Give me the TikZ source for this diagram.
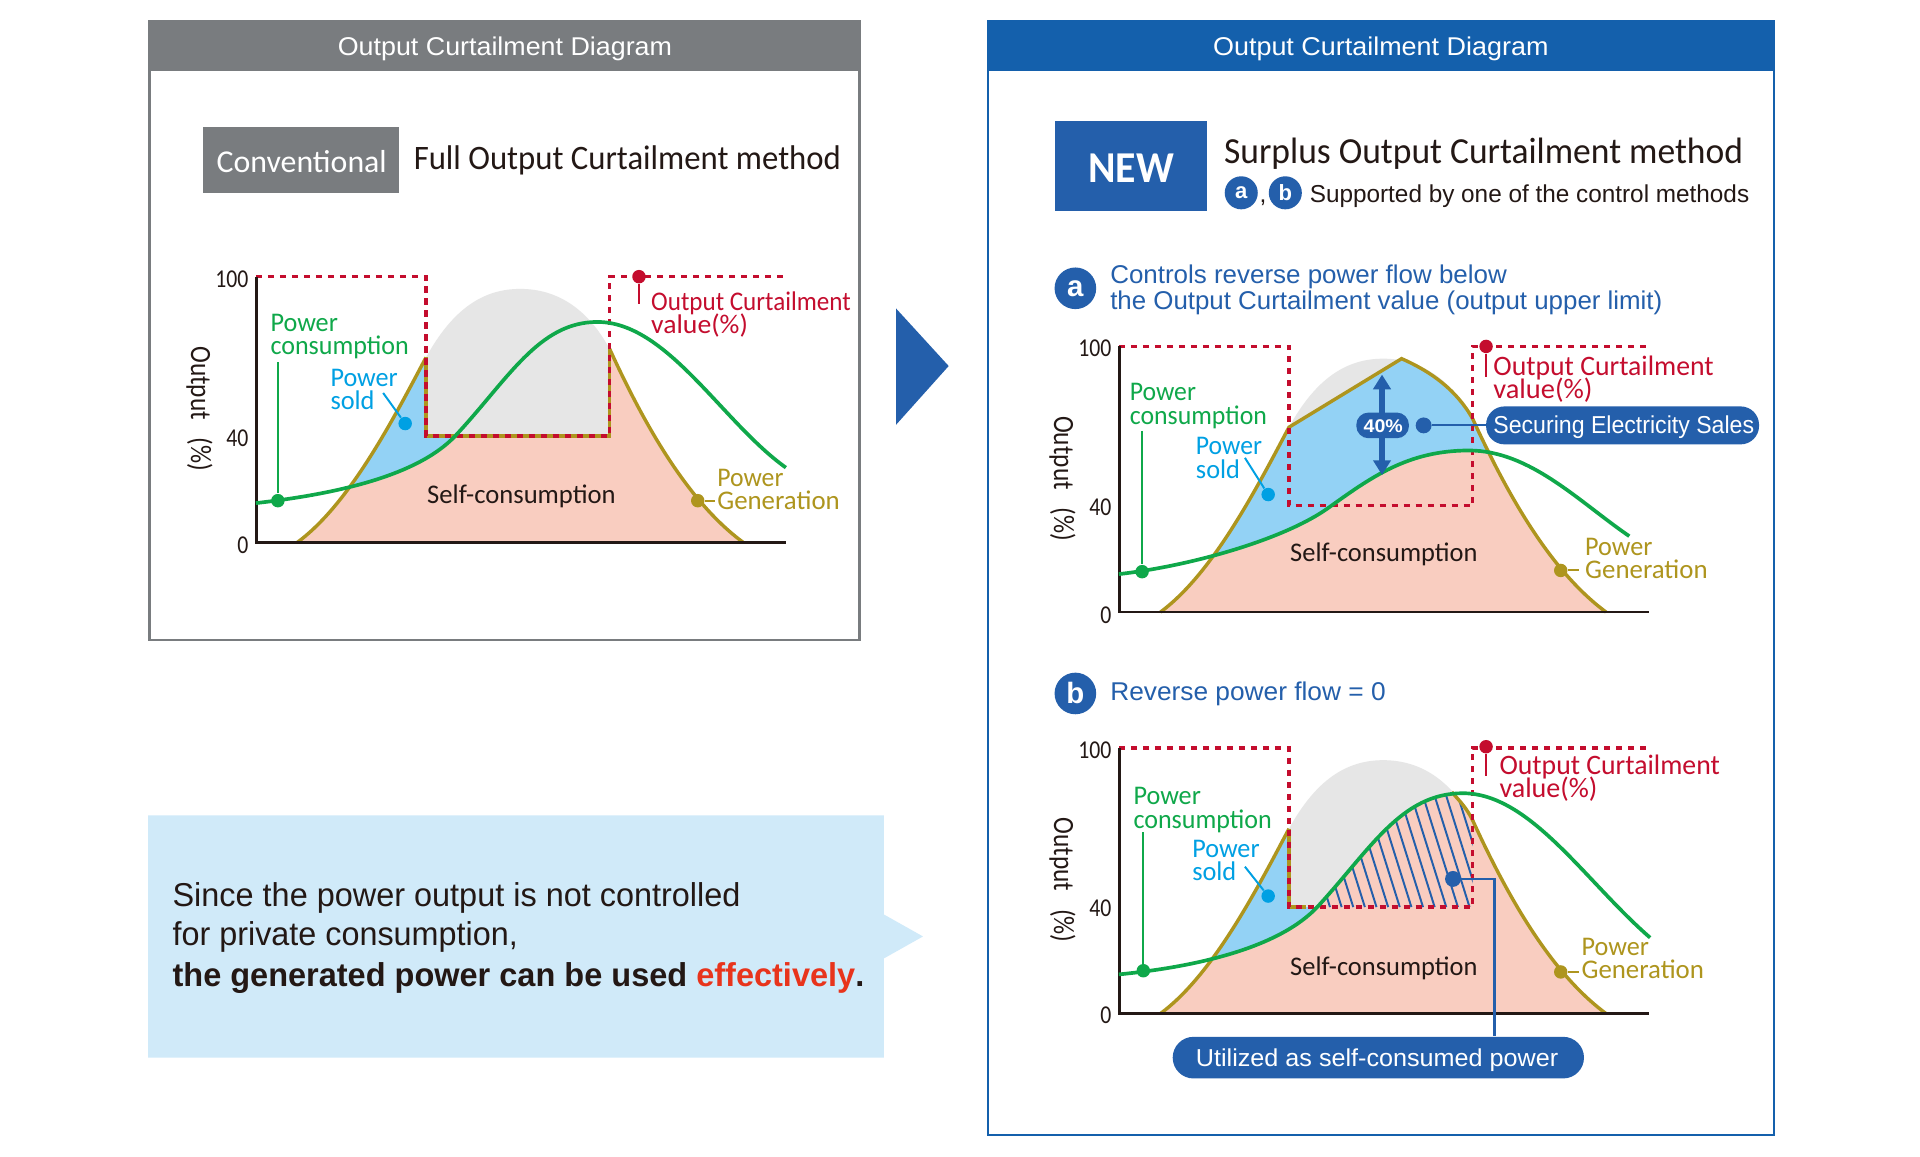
\documentclass[tikz,border=0pt]{standalone}
\usepackage{fontspec}
\usepackage{graphicx}
\usetikzlibrary{arrows.meta}
\setmainfont{Liberation Sans}
\newfontfamily\dg{Carlito}
\definecolor{hgray}{HTML}{797C7F}
\definecolor{hblue}{HTML}{1460AC}
\definecolor{nblue}{HTML}{245FAB}
\definecolor{cred}{HTML}{C40D2E}
\definecolor{olive}{HTML}{AE951E}
\definecolor{cgreen}{HTML}{0FA84A}
\definecolor{cyanb}{HTML}{00A0E3}
\definecolor{fblue}{HTML}{93D2F5}
\definecolor{peach}{HTML}{F9CDC0}
\definecolor{hump}{HTML}{E6E6E6}
\definecolor{call}{HTML}{D0EAF9}
\definecolor{ered}{HTML}{E8341C}
\definecolor{ink}{HTML}{231815}
\newcommand\fw[2]{\resizebox{\dimexpr #1pt/2\relax}{\height}{#2}}
\newcommand\dgs[1]{\dg\fontsize{#1}{#1}\selectfont}
\newcommand\lbs[1]{\fontsize{#1}{#1}\selectfont}
\tikzset{
  txt/.style={inner sep=0pt,outer sep=0pt,anchor=base west,yshift=-.25pt},
  num/.style={inner sep=0pt,outer sep=0pt,anchor=base east,text=ink,yshift=-.25pt},
  dotn/.style={circle,inner sep=0pt,minimum size=5.5pt,fill=#1,draw=none},
  lead/.style={draw=#1,line width=.8pt},
  redd/.style={draw=cred,line width=1.4pt,dash pattern=on 2.5pt off 2.4pt},
  olv/.style={draw=olive,line width=1.4pt},
  grn/.style={draw=cgreen,line width=1.5pt},
  axs/.style={draw=ink,line width=1pt},
  pill/.style={fill=nblue,rounded corners=7.5pt},
  badge/.style={circle,fill=nblue,inner sep=0pt,text=white},
}
\def\genfull{(243,443) .. controls (285,412) and (320,345) .. (348,292) .. controls (370,252) and (395,236) .. (425,236) .. controls (455,236) and (480,252) .. (498,285) .. controls (530,355) and (565,412) .. (607,443)}
\def\genleft{(243,443) .. controls (285,412) and (320,345) .. (348,292)}
\def\genright{(498,285) .. controls (530,355) and (565,412) .. (607,443)}
\def\genrightb{(481,262) .. controls (488,270) and (493,275) .. (498,285) .. controls (530,355) and (565,412) .. (607,443)}
\def\gena{(243,443) .. controls (285,412) and (320,345) .. (348,292) -- (440,236) .. controls (465,247) and (485,262) .. (498,285) .. controls (530,355) and (565,412) .. (607,443)}
\def\gLp{(209,411) .. controls (270,404) and (340,390) .. (372,356) .. controls (415,310) and (440,263) .. (488,263) .. controls (545,263) and (590,345) .. (642,382)}
\def\gAp{(914,469) .. controls (975,462) and (1050,440) .. (1085,415) .. controls (1120,390) and (1150,368) .. (1200,368) .. controls (1250,368) and (1290,410) .. (1331,438)}
\def\gBp{(914,796) .. controls (975,790) and (1045,775) .. (1077,740) .. controls (1120,693) and (1145,648) .. (1195,648) .. controls (1250,648) and (1295,720) .. (1348,766)}
\def\gLbelow{\gLp -- (642,443) -- (209,443) -- cycle}
\def\gLabove{\gLp -- (642,100) -- (209,100) -- cycle}
\def\gAbelow{\gAp -- (1347,500) -- (914,500) -- cycle}
\def\gBbelow{\gBp -- (1347,828) -- (914,828) -- cycle}
\def\gBabove{\gBp -- (1347,520) -- (914,520) -- cycle}
\begin{document}
\begin{tikzpicture}[x=0.5pt,y=-0.5pt]
\useasboundingbox (0,0) rectangle (1568.5,944.4);
\fill[white] (0,0) rectangle (1568.5,944.4);
% ---------- left panel
\draw[draw=hgray,line width=1pt,fill=white] (122,17) rectangle (702,523);
\fill[hgray] (121,16) rectangle (703,58);
\node[txt,text=white] (hl) at (276,45) {\fw{273}{\lbs{10.5pt}Output Curtailment Diagram}};
\fill[hgray] (166,104) rectangle (326,158);
\node[txt,text=white] (conv) at (177,140.5) {\fw{139}{\dgs{13pt}Conventional}};
\node[txt,text=ink] (full) at (338,138) {\fw{349}{\dgs{14pt}Full Output Curtailment method}};
% left chart fills
\fill[hump] \genfull -- cycle;
\begin{scope}
  \clip \genfull -- cycle;
  \clip \gLbelow;
  \fill[peach] (209,226) -- (348,226) -- (348,356) -- (498,356) -- (498,226) -- (642,226) -- (642,443) -- (209,443) -- cycle;
\end{scope}
\begin{scope}
  \clip \genfull -- cycle;
  \clip \gLabove;
  \fill[fblue] (209,226) -- (348,226) -- (348,356) -- (642,356) -- (642,443) -- (209,443) -- cycle;
\end{scope}
\draw[olv] \genleft;
\draw[olv] \genright;
\draw[olv] (348,292) -- (348,356) -- (498,356) -- (498,285);
\draw[redd] (209,226) -- (348,226) -- (348,356) -- (498,356) -- (498,226) -- (642,226);
\draw[axs] (209.5,226) -- (209.5,443) -- (642,443);
\draw[grn] \gLp;
\node[num] (l100) at (203,234) {\fw{27}{\dgs{10.5pt}100}};
\node[num] (l40) at (203,364) {\fw{18}{\dgs{10.5pt}40}};
\node[num] (l0) at (203,452) {\fw{9}{\dgs{10.5pt}0}};
\node[inner sep=0pt,text=ink,rotate=-90] (lo) at (163,334) {\fw{102}{\dgs{12pt}Output\hspace{.7em}(\%)}};
\node[txt,text=cgreen] (lp1) at (221,270) {\fw{55}{\dgs{11pt}Power}};
\node[txt,text=cgreen] (lp2) at (221,289) {\fw{113}{\dgs{11pt}consumption}};
\node[txt,text=cyanb] (ls1) at (270,315) {\fw{55}{\dgs{11pt}Power}};
\node[txt,text=cyanb] (ls2) at (270,334) {\fw{36}{\dgs{11pt}sold}};
\node[txt,text=cred] (lr1) at (532,253) {\fw{163}{\dgs{11pt}Output Curtailment}};
\node[txt,text=cred] (lr2) at (532,272) {\fw{79}{\dgs{11pt}value(\%)}};
\node[txt,text=olive] (lg1) at (586,397) {\fw{54}{\dgs{11pt}Power}};
\node[txt,text=olive] (lg2) at (586,416) {\fw{100}{\dgs{11pt}Generation}};
\node[txt,text=ink] (lsc) at (349,411) {\fw{154}{\dgs{11pt}Self-consumption}};
\node[dotn=cgreen] (ldg) at (227,409) {};
\coordinate (ldg0) at (227,296);
\draw[lead=cgreen] (ldg0) -- (ldg);
\node[dotn=cyanb] (ldc) at (331,346) {};
\coordinate (ldc0) at (313,321);
\draw[lead=cyanb] (ldc0) -- (ldc);
\node[dotn=cred] (ldr) at (522,226) {};
\coordinate (ldr0) at (522,248);
\draw[lead=cred] (ldr) -- (ldr0);
\node[dotn=olive] (ldo) at (570,409) {};
\coordinate (ldo0) at (584,409);
\draw[lead=olive] (ldo) -- (ldo0);
% arrow
\fill[nblue] (732,252) -- (775,299) -- (732,347) -- cycle;
% callout
\fill[call] (121,666) -- (722,666) -- (722,747) -- (754,765) -- (722,783) -- (722,864) -- (121,864) -- cycle;
\node[txt,text=ink] (c1) at (141,740) {\fw{464}{\lbs{13.5pt}Since the power output is not controlled}};
\node[txt,text=ink] (c2) at (141,772) {\fw{282}{\lbs{13.5pt}for private consumption,}};
\node[txt,text=ink] (c3) at (141,805) {\fw{565}{\lbs{13.5pt}\bfseries the generated power can be used \textcolor{ered}{effectively}.}};
% ---------- right panel
\draw[draw=hblue,line width=1pt,fill=white] (807,17) rectangle (1449,927);
\fill[hblue] (806,16) rectangle (1450,58);
\node[txt,text=white] (hr) at (991,45) {\fw{274}{\lbs{10.5pt}Output Curtailment Diagram}};
\fill[nblue] (862,99) rectangle (986,172);
\node[txt,text=white] (new) at (889,148.5) {\fw{70}{\dgs{18pt}\bfseries NEW}};
\node[txt,text=ink] (sur) at (1000,133) {\fw{424}{\dgs{15pt}Surplus Output Curtailment method}};
\node[badge,minimum size=13.5pt] (ba) at (1014,157.5) {\lbs{9pt}\bfseries a};
\node[txt,text=ink] (comma) at (1029,165) {\lbs{10pt},};
\node[badge,minimum size=13.5pt] (bb) at (1050,157.5) {\lbs{9pt}\bfseries b};
\node[txt,text=ink] (sup) at (1070,165) {\fw{359}{\lbs{10pt}Supported by one of the control methods}};
\node[badge,minimum size=17pt] (ca) at (878.5,235.5) {\lbs{12pt}\bfseries a};
\node[txt,text=nblue] (a1) at (907,231) {\fw{324}{\lbs{10.5pt}Controls reverse power flow below}};
\node[txt,text=nblue] (a2) at (907,252) {\fw{451}{\lbs{10.5pt}the Output Curtailment value (output upper limit)}};
% chart a
\fill[hump,shift={(705,57)}] \genfull -- cycle;
\begin{scope}
  \clip[shift={(705,57)}] \gena -- cycle;
  \fill[fblue] (914,200) rectangle (1347,500);
  \clip \gAbelow;
  \fill[peach] (914,200) rectangle (1347,500);
\end{scope}
\draw[olv,shift={(705,57)}] \gena;
\draw[redd] (914,283) -- (1053,283) -- (1053,413) -- (1203,413) -- (1203,283) -- (1347,283);
\draw[axs] (914.5,283) -- (914.5,500) -- (1347,500);
\draw[grn] \gAp;
\node[num] (a100) at (908,291) {\fw{27}{\dgs{10.5pt}100}};
\node[num] (a40) at (908,421) {\fw{18}{\dgs{10.5pt}40}};
\node[num] (a0) at (908,509) {\fw{9}{\dgs{10.5pt}0}};
\node[inner sep=0pt,text=ink,rotate=-90] (ao) at (868,391) {\fw{102}{\dgs{12pt}Output\hspace{.7em}(\%)}};
\node[txt,text=cgreen] (ap1) at (923,327) {\fw{54}{\dgs{11pt}Power}};
\node[txt,text=cgreen] (ap2) at (923,346) {\fw{112}{\dgs{11pt}consumption}};
\node[txt,text=cyanb] (as1) at (977,371) {\fw{54}{\dgs{11pt}Power}};
\node[txt,text=cyanb] (as2) at (977,390) {\fw{36}{\dgs{11pt}sold}};
\node[txt,text=cred] (ar1) at (1220,306) {\fw{180}{\dgs{11.5pt}Output Curtailment}};
\node[txt,text=cred] (ar2) at (1220,325) {\fw{81}{\dgs{11.5pt}value(\%)}};
\node[txt,text=olive] (ag1) at (1295,453) {\fw{55}{\dgs{11pt}Power}};
\node[txt,text=olive] (ag2) at (1295,472) {\fw{100}{\dgs{11pt}Generation}};
\node[txt,text=ink] (asc) at (1054,458) {\fw{153}{\dgs{11pt}Self-consumption}};
\node[dotn=cgreen] (adg) at (933,467) {};
\coordinate (adg0) at (933,352);
\draw[lead=cgreen] (adg0) -- (adg);
\node[dotn=cyanb] (adc) at (1036,404) {};
\coordinate (adc0) at (1017,374);
\draw[lead=cyanb] (adc0) -- (adc);
\node[dotn=cred] (adr) at (1214,283) {};
\coordinate (adr0) at (1214,308);
\draw[lead=cred] (adr) -- (adr0);
\node[dotn=olive] (ado) at (1275,466) {};
\coordinate (ado0) at (1290,466);
\draw[lead=olive] (ado) -- (ado0);
\coordinate (av1) at (1129,306);
\coordinate (av2) at (1129,388);
\draw[nblue,line width=2.2pt,{Triangle[width=7pt,length=6pt]}-{Triangle[width=7pt,length=6pt]}] (av1) -- (av2);
\node[pill,minimum width=21.5pt,minimum height=10.5pt,inner sep=0pt,rounded corners=5pt] (p40) at (1129.5,347.5) {};
\node[txt,text=white] (t40) at (1114,353) {\fw{32}{\lbs{7.5pt}\bfseries 40\%}};
\node[pill,minimum width=111.5pt,minimum height=15.5pt,inner sep=0pt] (psec) at (1325.5,347.5) {};
\node[txt,text=white] (tsec) at (1220,354) {\fw{213}{\lbs{10pt}Securing Electricity Sales}};
\node[dotn=nblue,minimum size=6.5pt] (ads) at (1163,347.5) {};
\draw[lead=nblue] (ads) -- (psec.west);
% label b
\node[badge,minimum size=17pt] (cb) at (878.5,566.5) {\lbs{12pt}\bfseries b};
\node[txt,text=nblue] (b1) at (907,572) {\fw{225}{\lbs{10.5pt}Reverse power flow = 0}};
% chart b
\fill[hump,shift={(705,385)}] \genfull -- cycle;
\begin{scope}
  \clip[shift={(705,385)}] \genfull -- cycle;
  \clip \gBbelow;
  \fill[peach] (914,520) rectangle (1347,828);
\end{scope}
\begin{scope}
  \clip[shift={(705,385)}] \genfull -- cycle;
  \clip \gBabove;
  \fill[fblue] (914,611) -- (1053,611) -- (1053,741) -- (1347,741) -- (1347,828) -- (914,828) -- cycle;
\end{scope}
\begin{scope}
  \clip[shift={(705,385)}] \genfull -- cycle;
  \clip \gBbelow;
  \clip (1053,611) rectangle (1203,741);
  \foreach \hx in {1020,1029.5,...,1215}{
    \draw[nblue,line width=.8pt] (\hx,620) -- (\hx+38,741);
  }
\end{scope}
\draw[olv,shift={(705,385)}] \genleft;
\draw[olv,shift={(705,385)}] \genrightb;
\draw[olv] (1053,677) -- (1053,741) -- (1067,741);
\draw[redd] (914,611) -- (1053,611) -- (1053,741) -- (1203,741) -- (1203,611) -- (1347,611);
\draw[axs] (914.5,611) -- (914.5,828) -- (1347,828);
\draw[grn] \gBp;
\node[num] (b100) at (908,619) {\fw{27}{\dgs{10.5pt}100}};
\node[num] (b40) at (908,748) {\fw{18}{\dgs{10.5pt}40}};
\node[num] (b0) at (908,836) {\fw{9}{\dgs{10.5pt}0}};
\node[inner sep=0pt,text=ink,rotate=-90] (bo) at (868,719) {\fw{102}{\dgs{12pt}Output\hspace{.7em}(\%)}};
\node[txt,text=cgreen] (bp1) at (926,657) {\fw{55}{\dgs{11pt}Power}};
\node[txt,text=cgreen] (bp2) at (926,676) {\fw{113}{\dgs{11pt}consumption}};
\node[txt,text=cyanb] (bs1) at (974,700) {\fw{55}{\dgs{11pt}Power}};
\node[txt,text=cyanb] (bs2) at (974,719) {\fw{36}{\dgs{11pt}sold}};
\node[txt,text=cred] (br1) at (1225,632) {\fw{180}{\dgs{11.5pt}Output Curtailment}};
\node[txt,text=cred] (br2) at (1225,651) {\fw{80}{\dgs{11.5pt}value(\%)}};
\node[txt,text=olive] (bg1) at (1292,780) {\fw{55}{\dgs{11pt}Power}};
\node[txt,text=olive] (bg2) at (1292,799) {\fw{100}{\dgs{11pt}Generation}};
\node[txt,text=ink] (bsc) at (1054,796) {\fw{153}{\dgs{11pt}Self-consumption}};
\node[dotn=cgreen] (bdg) at (934,793) {};
\coordinate (bdg0) at (934,680);
\draw[lead=cgreen] (bdg0) -- (bdg);
\node[dotn=cyanb] (bdc) at (1036,732) {};
\coordinate (bdc0) at (1017,708);
\draw[lead=cyanb] (bdc0) -- (bdc);
\node[dotn=cred] (bdr) at (1214,610) {};
\coordinate (bdr0) at (1214,634);
\draw[lead=cred] (bdr) -- (bdr0);
\node[dotn=olive] (bdo) at (1275,794) {};
\coordinate (bdo0) at (1290,794);
\draw[lead=olive] (bdo) -- (bdo0);
\node[pill,minimum width=168pt,minimum height=17pt,inner sep=0pt,rounded corners=8.5pt] (put) at (1126,864) {};
\node[txt,text=white] (tut) at (977,871) {\fw{296}{\lbs{10pt}Utilized as self-consumed power}};
\node[dotn=nblue,minimum size=6.5pt] (bds) at (1187,718) {};
\coordinate (bdk) at (1221,718);
\draw[lead=nblue,line width=1pt] (bds) -- (bdk) -- (bdk |- put.north);
\end{tikzpicture}
\end{document}
